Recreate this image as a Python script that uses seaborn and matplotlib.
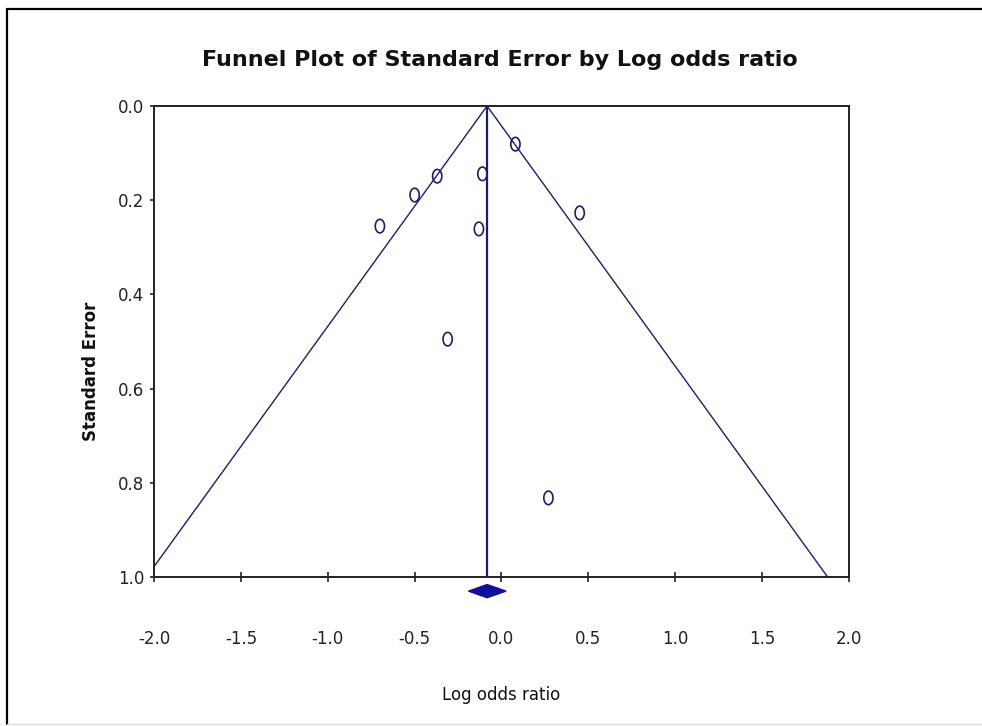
import numpy as np
import pandas as pd
import matplotlib
matplotlib.use("Agg")
import matplotlib.pyplot as plt
from matplotlib.path import Path
from matplotlib.lines import Line2D
import seaborn as sns

# Study estimates
log_odds_ratio = [-0.70, -0.50, -0.37, -0.11, -0.13, -0.31, 0.08, 0.45, 0.27]
standard_error = [0.255, 0.189, 0.149, 0.144, 0.261, 0.495, 0.081, 0.227, 0.832]

# Pooled estimate and its confidence interval (diamond)
pooled_estimate = -0.083
pooled_lower = -0.19
pooled_upper = 0.026
z_value = 1.96
se_range = [0.0, 1.0]

x_ticks = [-2.0, -1.5, -1.0, -0.5, 0.0, 0.5, 1.0, 1.5, 2.0]
y_ticks = [0.0, 0.2, 0.4, 0.6, 0.8, 1.0]

df = pd.DataFrame({"Log odds ratio": log_odds_ratio, "Standard Error": standard_error})

sns.set_style("white")
plt.rcParams["font.family"] = ["DejaVu Sans"]

navy = "#1c1c72"

fig = plt.figure(figsize=(9.82, 7.26), dpi=100)
ax = fig.add_axes([154 / 982, 1 - 577 / 726, 695 / 982, 471 / 726])

# funnel: pooled +/- 1.96 * SE
se = np.array(se_range)
ax.plot(pooled_estimate - z_value * se, se, color=navy, lw=1.0)
ax.plot(pooled_estimate + z_value * se, se, color=navy, lw=1.0)
ax.plot([pooled_estimate, pooled_estimate], se, color=navy, lw=1.6)

# ellipse marker like the "O" symbols
t = np.linspace(0, 2 * np.pi, 40)
ellipse = Path(np.column_stack([0.68 * np.cos(t), np.sin(t)]), closed=True)
sns.scatterplot(data=df, x="Log odds ratio", y="Standard Error", ax=ax,
                marker=ellipse, s=95, facecolor="none", edgecolor=navy,
                linewidth=1.2, zorder=5)

# summary diamond below the axis
dy = 0.014
ax.fill([pooled_lower, pooled_estimate, pooled_upper, pooled_estimate],
        [1.03, 1.03 - dy, 1.03, 1.03 + dy], color="#10109a", clip_on=False, zorder=6)

ax.set_xlim(-2.0, 2.0)
ax.set_ylim(1.0, 0.0)
ax.set_xticks(x_ticks)
ax.set_xticklabels([f"{v:.1f}" for v in x_ticks])
ax.set_yticks(y_ticks)
ax.set_yticklabels([f"{v:.1f}" for v in y_ticks])

for sp in ax.spines.values():
    sp.set_visible(True)
    sp.set_color("#222222")
    sp.set_linewidth(1.4)

ax.tick_params(axis="x", direction="inout", length=7, width=1.2, pad=35,
               labelsize=12, colors="#222222", bottom=True)
ax.tick_params(axis="y", direction="out", length=3, width=1.2, pad=4,
               labelsize=12, colors="#222222", left=True)

ax.set_xlabel("Log odds ratio", fontsize=12, color="#111111")
ax.xaxis.set_label_coords(0.5, -0.232)
ax.set_ylabel("Standard Error", fontsize=12, fontweight="bold", color="#111111")
ax.yaxis.set_label_coords(-0.078, 0.437)

fig.text(500 / 982, 1 - 60 / 726, "Funnel Plot of Standard Error by Log odds ratio",
         ha="center", va="center", fontsize=16, fontweight="bold", color="#111111")

# outer frame of the original window
fig.add_artist(Line2D([7 / 982, 7 / 982], [2 / 726, 1 - 9 / 726], color="black", lw=1.6))
fig.add_artist(Line2D([7 / 982, 1.0], [1 - 9 / 726, 1 - 9 / 726], color="black", lw=1.6))
fig.add_artist(Line2D([7 / 982, 1.0], [2 / 726, 2 / 726], color="#dddddd", lw=1.0))

fig.savefig("out.png", dpi=100)
